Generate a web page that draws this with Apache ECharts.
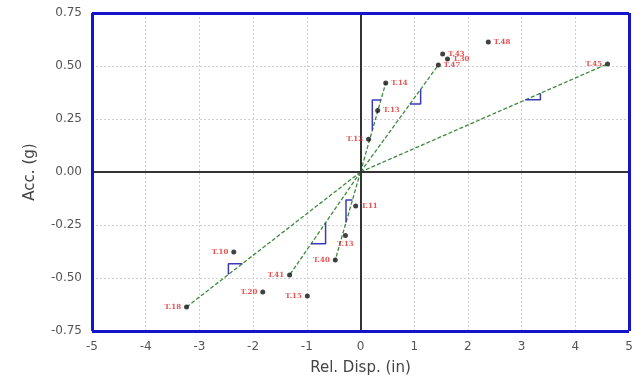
<!DOCTYPE html>
<html>
<head>
<meta charset="utf-8">
<script src="https://cdn.jsdelivr.net/npm/echarts@6/dist/echarts.min.js"></script>
<style>
html,body{margin:0;padding:0;background:#fff;}
#chart{width:642px;height:390px;}
</style>
</head>
<body>
<div id="chart"></div>
<script>
// Test points: relative displacement (in) vs. acceleration (g)
var pointNames = ['T.48', 'T.43', 'T.30', 'T.47', 'T.45', 'T.14', 'T.13', 'T.12',
                  'T.11', 'T.13', 'T.40', 'T.41', 'T.10', 'T.20', 'T.15', 'T.18'];
var pointDisp  = [2.38, 1.53, 1.62, 1.45, 4.60, 0.47, 0.32, 0.15,
                  -0.09, -0.28, -0.47, -1.32, -2.36, -1.82, -0.99, -3.24];
var pointAcc   = [0.613, 0.557, 0.533, 0.505, 0.510, 0.420, 0.290, 0.155,
                  -0.160, -0.300, -0.415, -0.486, -0.377, -0.566, -0.585, -0.637];
var labelSide  = ['right', 'right', 'right', 'right', 'left', 'right', 'right', 'left',
                  'right', 'bottom', 'left', 'left', 'left', 'left', 'left', 'left'];

// Secant stiffness lines run from the origin to these test points
var secantEnds = ['T.45', 'T.47', 'T.14', 'T.18', 'T.41', 'T.40'];

// Slope triangles drawn on each secant line: start/end displacement and corner side
var triLine   = ['T.45', 'T.47', 'T.14', 'T.18', 'T.41', 'T.40'];
var triStart  = [3.07, 0.92, 0.22, -2.46, -0.92, -0.27];
var triEnd    = [3.35, 1.12, 0.38, -2.20, -0.65, -0.15];
var triCorner = ['br', 'br', 'tl', 'tl', 'br', 'tl'];

// Axis ticks
var xTicks = [-5, 5, 1];
var yTicks = [-0.75, 0.75, 0.25];

function pointIndex(name) { return pointNames.indexOf(name); }

var series = [];

// zero axes and the plot frame
series.push({
  type: 'line', data: [], silent: true, z: 6,
  markLine: {
    silent: true, symbol: 'none', animation: false,
    label: { show: false },
    data: [
      { xAxis: 0, lineStyle: { color: '#333', width: 2, type: 'solid' } },
      { yAxis: 0, lineStyle: { color: '#333', width: 2, type: 'solid' } },
      { xAxis: xTicks[0], lineStyle: { color: '#1414c8', width: 3, type: 'solid' } },
      { xAxis: xTicks[1], lineStyle: { color: '#1414c8', width: 3, type: 'solid' } },
      { yAxis: yTicks[0], lineStyle: { color: '#1414c8', width: 3, type: 'solid' } },
      { yAxis: yTicks[1], lineStyle: { color: '#1414c8', width: 3, type: 'solid' } }
    ]
  }
});

secantEnds.forEach(function (name) {
  var i = pointIndex(name);
  series.push({
    type: 'line', silent: true, symbol: 'none', z: 3,
    lineStyle: { color: '#3f8a3f', width: 1.3, type: [4, 2] },
    data: [[0, 0], [pointDisp[i], pointAcc[i]]]
  });
});

triLine.forEach(function (name, k) {
  var i = pointIndex(name);
  var slope = pointAcc[i] / pointDisp[i];
  var x1 = triStart[k], x2 = triEnd[k];
  var y1 = slope * x1, y2 = slope * x2;
  var corner = triCorner[k] === 'br' ? [x2, y1] : [x1, y2];
  series.push({
    type: 'line', silent: true, symbol: 'none', z: 4,
    lineStyle: { color: '#3b3bb8', width: 1.5 },
    data: [[x1, y1], corner, [x2, y2]]
  });
});

series.push({
  type: 'scatter', z: 5,
  symbol: 'circle', symbolSize: 5,
  itemStyle: { color: '#111' },
  data: pointNames.map(function (n, i) {
    return {
      value: [pointDisp[i], pointAcc[i]],
      label: {
        show: true, formatter: n, position: labelSide[i], distance: 3,
        color: '#e02828', fontSize: 7, fontWeight: 'bold',
        fontFamily: 'DejaVu Serif'
      }
    };
  })
});

var chart = echarts.init(document.getElementById('chart'), null, { renderer: 'canvas' });
chart.setOption({
  animation: false,
  backgroundColor: '#fff',
  grid: { left: 92, right: 13, top: 13, bottom: 59, show: false },
  xAxis: {
    type: 'value', min: xTicks[0], max: xTicks[1], interval: xTicks[2],
    name: 'Rel. Disp. (in)', nameLocation: 'middle', nameGap: 30,
    nameTextStyle: { color: '#444', fontSize: 15, fontFamily: 'DejaVu Sans' },
    axisLine: { show: false }, axisTick: { show: false },
    axisLabel: { color: '#555', fontSize: 12, fontFamily: 'DejaVu Sans', margin: 10 },
    splitLine: { show: true, lineStyle: { color: '#cfcfcf', type: [2, 2] } }
  },
  yAxis: {
    type: 'value', min: yTicks[0], max: yTicks[1], interval: yTicks[2],
    name: 'Acc. (g)', nameLocation: 'middle', nameGap: 54,
    nameTextStyle: { color: '#444', fontSize: 15, fontFamily: 'DejaVu Sans' },
    axisLine: { show: false }, axisTick: { show: false },
    axisLabel: {
      color: '#555', fontSize: 12, fontFamily: 'DejaVu Sans', margin: 10,
      formatter: function (v) { return v.toFixed(2); }
    },
    splitLine: { show: true, lineStyle: { color: '#cfcfcf', type: [2, 2] } }
  },
  series: series
});
</script>
</body>
</html>
